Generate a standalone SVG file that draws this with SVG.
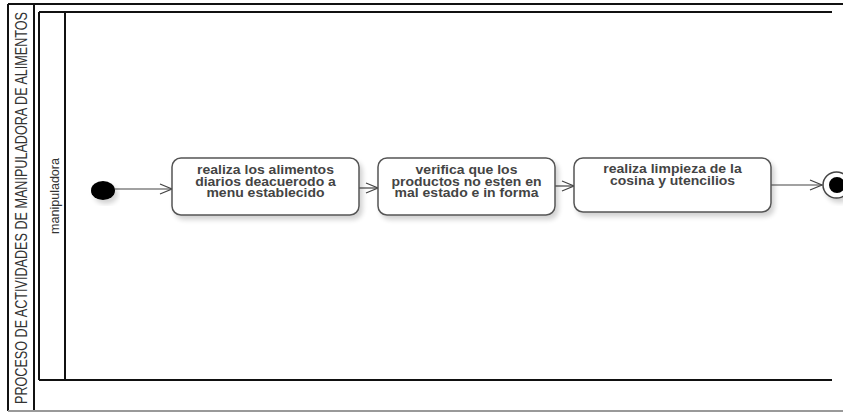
<svg xmlns="http://www.w3.org/2000/svg" width="843" height="412" viewBox="0 0 843 412">
<style>
.frame{stroke:#111;stroke-width:2;fill:none}
.box{fill:#fff;stroke:#555;stroke-width:1.5}
.lbl{font-family:"Liberation Sans",Arial,sans-serif;font-weight:bold;font-size:14px;fill:#444;text-anchor:middle}
.edge{stroke:#444;stroke-width:1.2;fill:none}
.title{font-family:"Liberation Sans",Arial,sans-serif;font-size:16px;fill:#333;text-anchor:middle}
</style>
<defs>
<marker id="open" markerWidth="14" markerHeight="12" refX="13" refY="6" orient="auto" markerUnits="userSpaceOnUse">
<path d="M1,1 L13,6 L1,11" fill="none" stroke="#444" stroke-width="1.2"/>
</marker>
<filter id="sh" x="-20%" y="-20%" width="140%" height="150%">
<feGaussianBlur in="SourceAlpha" stdDeviation="2.5"/>
<feOffset dx="3" dy="4" result="b"/>
<feComponentTransfer><feFuncA type="linear" slope="0.18"/></feComponentTransfer>
<feMerge><feMergeNode/><feMergeNode in="SourceGraphic"/></feMerge>
</filter>
</defs>
<rect width="843" height="412" fill="#fff"/>
<g id="pool">
<line class="frame" x1="8" y1="4" x2="843" y2="4"/>
<line class="frame" x1="8" y1="4" x2="8" y2="411"/>
<line class="frame" x1="34" y1="4" x2="34" y2="411"/>
<line x1="8" y1="411" x2="843" y2="411" stroke="#999" stroke-width="2"/>
<text class="title" transform="translate(27,208) rotate(-90)" textLength="392" lengthAdjust="spacingAndGlyphs">PROCESO DE ACTIVIDADES DE MANIPULADORA DE ALIMENTOS</text>
</g>
<g id="lane">
<line class="frame" x1="39" y1="12" x2="832" y2="12"/>
<line class="frame" x1="39" y1="12" x2="39" y2="380"/>
<line class="frame" x1="39" y1="380" x2="832" y2="380"/>
<line class="frame" x1="65" y1="12" x2="65" y2="380"/>
<text class="title" style="font-size:13px" transform="translate(59,196) rotate(-90)" textLength="76" lengthAdjust="spacingAndGlyphs">manipuladora</text>
</g>
<g id="connectors">
<line class="edge" x1="115" y1="189" x2="172" y2="189" marker-end="url(#open)"/>
<line class="edge" x1="359" y1="188" x2="378" y2="188" marker-end="url(#open)"/>
<line class="edge" x1="555" y1="186" x2="574" y2="186" marker-end="url(#open)"/>
<line class="edge" x1="771" y1="185" x2="822" y2="185" marker-end="url(#open)"/>
</g>
<g id="start">
<ellipse cx="103" cy="190.5" rx="12" ry="9.5" fill="#000" filter="url(#sh)"/>
</g>
<g id="a1">
<rect class="box" x="172" y="158" width="187" height="57" rx="9" filter="url(#sh)"/>
<g transform="translate(265.5,174) scale(1,0.86)">
<text class="lbl" x="0" y="0">realiza los alimentos</text>
<text class="lbl" x="0" y="13.4">diarios deacuerodo a</text>
<text class="lbl" x="0" y="26.8">menu establecido</text>
</g>
</g>
<g id="a2">
<rect class="box" x="378" y="158" width="177" height="57" rx="9" filter="url(#sh)"/>
<g transform="translate(466.5,174) scale(1,0.86)">
<text class="lbl" x="0" y="0">verifica que los</text>
<text class="lbl" x="0" y="13.4">productos no esten en</text>
<text class="lbl" x="0" y="26.8">mal estado e in forma</text>
</g>
</g>
<g id="a3">
<rect class="box" x="574" y="158" width="197" height="54" rx="9" filter="url(#sh)"/>
<g transform="translate(672.5,173) scale(1,0.86)">
<text class="lbl" x="0" y="0">realiza limpieza de la</text>
<text class="lbl" x="0" y="13.4">cosina y utencilios</text>
</g>
</g>
<g id="end">
<ellipse cx="836.5" cy="185" rx="13.5" ry="13" fill="#fff" stroke="#444" stroke-width="1.5" filter="url(#sh)"/>
<ellipse cx="837" cy="185" rx="8" ry="8" fill="#000"/>
</g>
</svg>
